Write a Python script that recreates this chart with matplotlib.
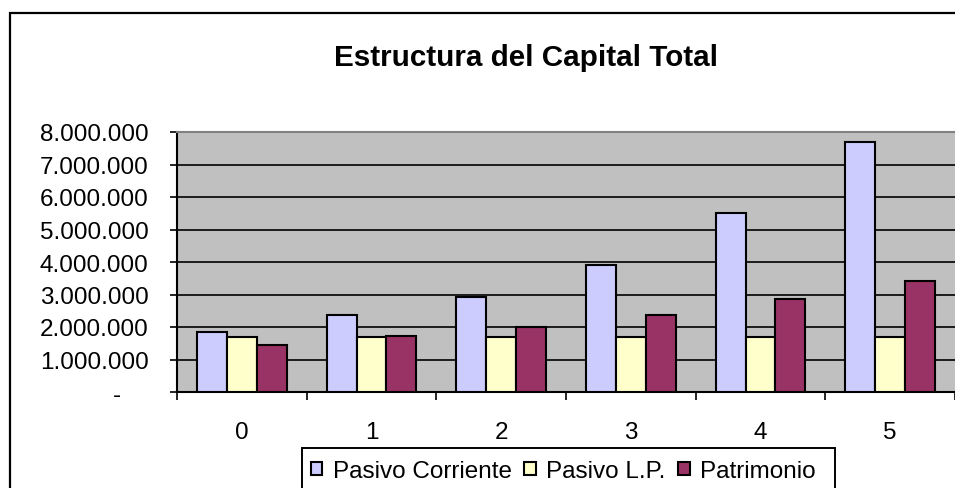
import matplotlib
matplotlib.use("Agg")
import matplotlib.pyplot as plt
from matplotlib.patches import Rectangle
import numpy as np

plt.rcParams['font.family'] = ['Liberation Sans', 'DejaVu Sans']

# Data
periods = ['0', '1', '2', '3', '4', '5']
pasivo_corriente = [1840000, 2380000, 2930000, 3920000, 5520000, 7680000]
pasivo_lp = [1700000, 1700000, 1700000, 1700000, 1700000, 1700000]
patrimonio = [1460000, 1710000, 2000000, 2380000, 2860000, 3420000]
series_names = ['Pasivo Corriente', 'Pasivo L.P.', 'Patrimonio']
colors = ['#CCCCFF', '#FFFFCC', '#993366']
y_ticks = [0, 1000000, 2000000, 3000000, 4000000, 5000000, 6000000, 7000000, 8000000]


def fmt_miles(v):
    if v == 0:
        return '-    '
    return f"{v:,.0f}".replace(',', '.')


fig = plt.figure(figsize=(9.55, 4.89), dpi=100)
ax = fig.add_axes([177 / 955, 1 - 393 / 489, 778 / 955, 260 / 489])
ax.set_facecolor('#C0C0C0')

x = np.arange(len(periods))
w = 0.231
for i, (vals, name, col) in enumerate(zip([pasivo_corriente, pasivo_lp, patrimonio], series_names, colors)):
    ax.bar(x + (i - 1) * w, vals, width=w, color=col, edgecolor='black',
           linewidth=1.5, label=name, zorder=3)

ax.set_xlim(-0.5, len(periods) - 0.5)
ax.set_ylim(0, 8000000)

# y axis
ax.set_yticks(y_ticks)
ax.set_yticklabels([fmt_miles(v) for v in y_ticks])
ax.tick_params(axis='y', direction='out', length=5, width=1.2, pad=15.5,
               labelsize=17.5, colors='black')
ax.yaxis.grid(True, color='black', linewidth=1.2, zorder=1)
ax.set_axisbelow(True)

# x axis: tick marks between categories, labels at centres
ax.set_xticks(np.arange(-0.5, len(periods), 1.0))
ax.set_xticklabels([])
ax.set_xticks(x, minor=True)
ax.set_xticklabels(periods, minor=True)
ax.tick_params(axis='x', which='major', direction='out', length=6, width=1.2)
ax.tick_params(axis='x', which='minor', length=0, pad=21, labelsize=17.5)

for side in ['left', 'bottom']:
    ax.spines[side].set_linewidth(1.5)
    ax.spines[side].set_color('black')
ax.spines['top'].set_color('#808080')
ax.spines['top'].set_linewidth(1.5)
ax.spines['right'].set_visible(False)

# title
fig.text(526 / 955, 1 - 66 / 489, 'Estructura del Capital Total', ha='center',
         va='baseline', fontsize=21.3, fontweight='bold')

# legend (its box runs past the bottom edge, as in the original)
fig.legend(loc='upper left', bbox_to_anchor=(310.5 / 955, 1 - 461 / 489), ncol=3,
           fontsize=17.5, frameon=False, borderaxespad=0, borderpad=0,
           handlelength=0.48, handleheight=0.48, handletextpad=0.44,
           columnspacing=0.5)
fig.add_artist(Rectangle((301.5 / 955, -0.2), (835 - 301.5) / 955, 1 - 448.5 / 489 + 0.2,
                         transform=fig.transFigure, fill=False,
                         edgecolor='black', linewidth=1.4, clip_on=False))

# outer chart border
fig.add_artist(Rectangle((10 / 955, -0.2), 1.2, 1 - 14 / 489 + 0.2,
                         transform=fig.transFigure, fill=False,
                         edgecolor='black', linewidth=1.6, clip_on=False))

fig.savefig('out.png', dpi=100)
